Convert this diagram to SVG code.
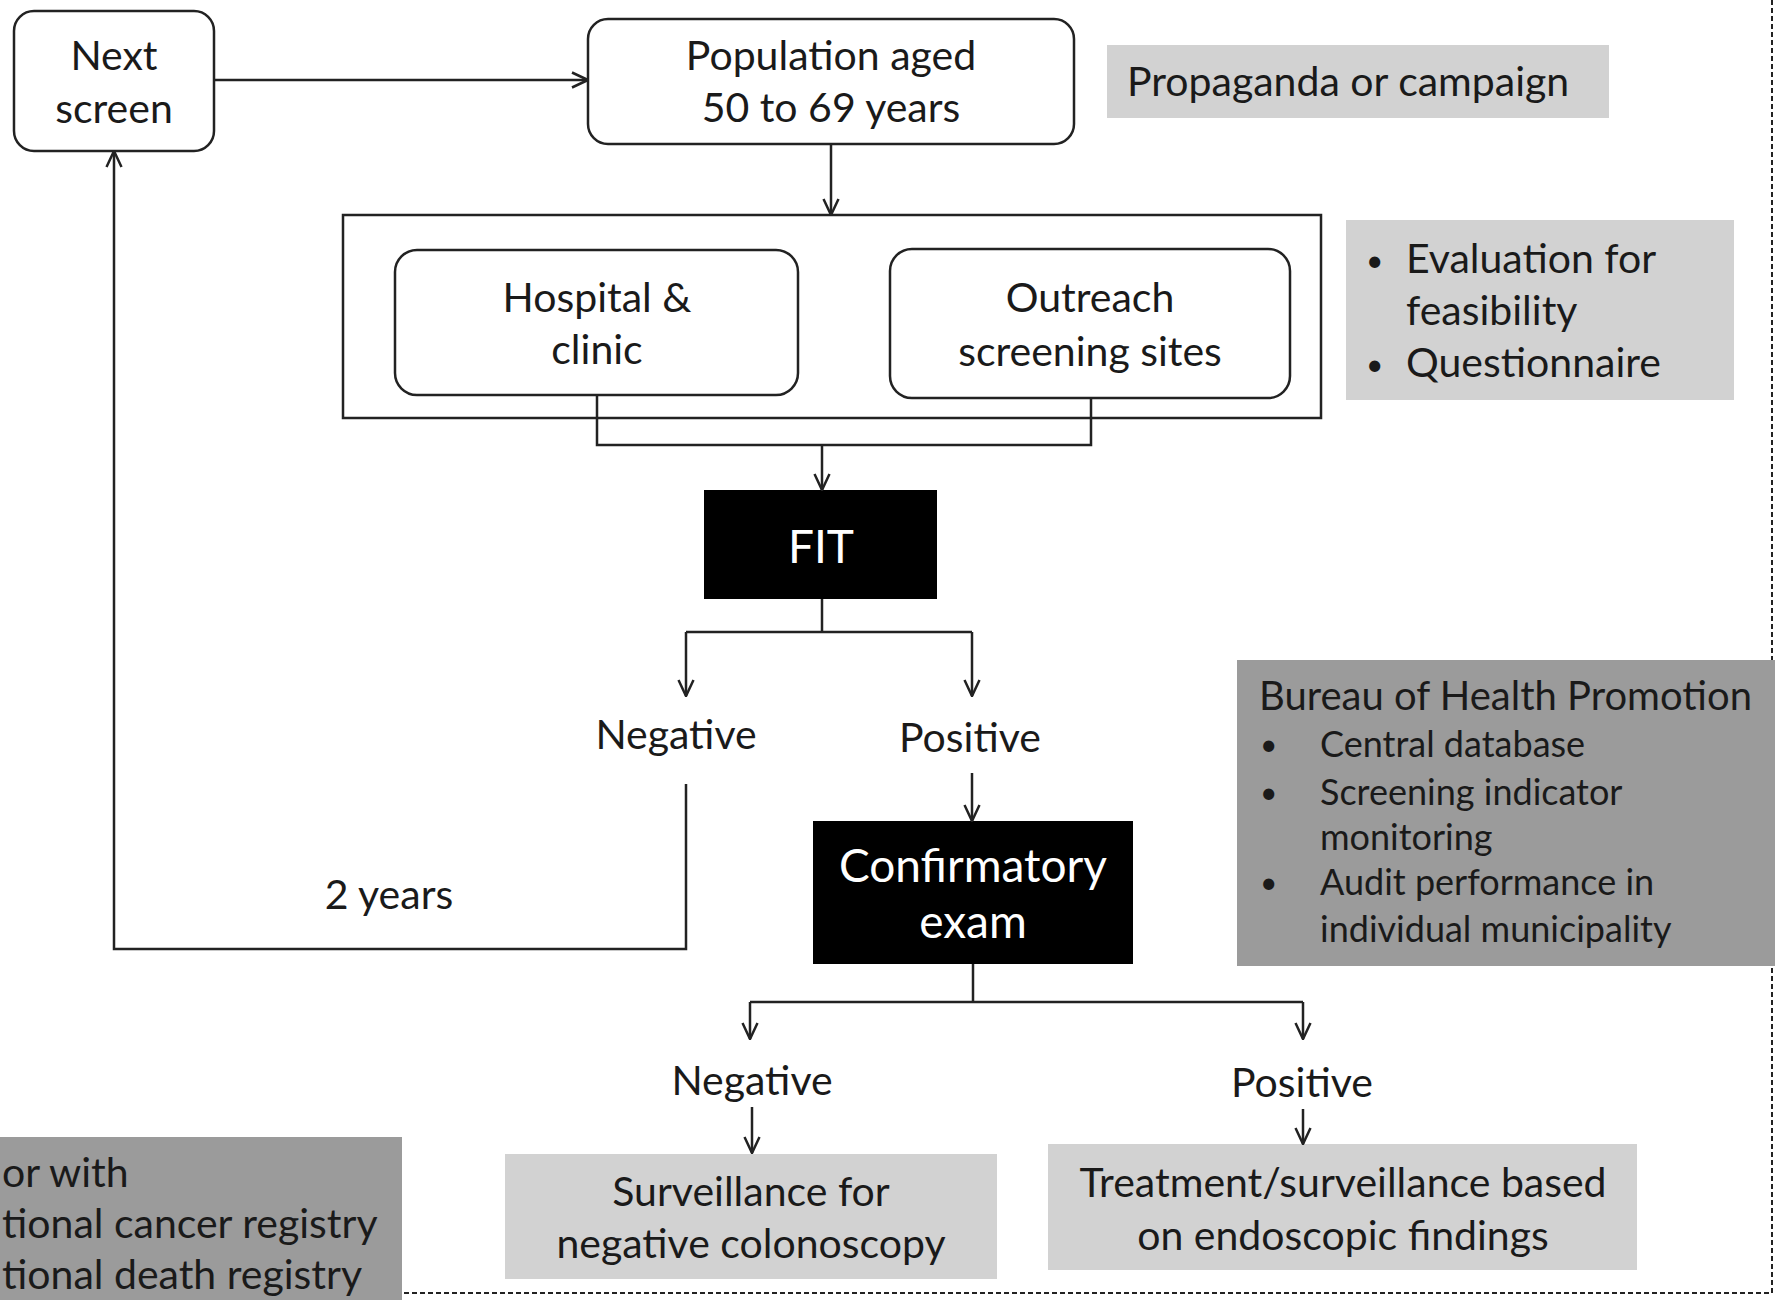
<svg xmlns="http://www.w3.org/2000/svg" width="1775" height="1300" viewBox="0 0 1775 1300">
<style>
text{font-family:Lato,"Open Sans","Liberation Sans",sans-serif;fill:#1a1a1a;font-size:41px}
.c{text-anchor:middle}
.w{fill:#fff;font-size:46px}
.box{fill:#fff;stroke:#222;stroke-width:2.5}
.lg{fill:#d2d2d2}
.dg{fill:#9b9b9b}
.ln{fill:none;stroke:#222;stroke-width:2.5}
.s{font-size:36px}
.t{font-size:40px}
.b{font-size:30px}
</style>
<defs>
<marker id="ah" viewBox="0 0 18 18" refX="17" refY="9" markerWidth="18" markerHeight="18" markerUnits="userSpaceOnUse" orient="auto">
<path d="M1,1.5 L17,9 L1,16.5" fill="none" stroke="#222" stroke-width="2.5"/>
</marker>
</defs>
<rect id="border" x="-10" y="-10" width="1782" height="1303" fill="none" stroke="#222" stroke-width="2" stroke-dasharray="5,3"/>
<g id="next-screen"><rect class="box" x="14" y="11" width="200" height="140" rx="20"/><text class="c" x="114" y="70">Next</text><text class="c" x="114" y="123">screen</text></g>
<g id="population"><rect class="box" x="588" y="19" width="486" height="125" rx="20"/><text class="c" x="831" y="70">Population aged</text><text class="c" x="831" y="122">50 to 69 years</text></g>
<g id="propaganda"><rect class="lg" x="1107" y="45" width="502" height="73"/><text x="1127" y="96">Propaganda or campaign</text></g>
<g id="sites"><rect class="box" x="343" y="215" width="978" height="203"/></g>
<g id="hospital"><rect class="box" x="395" y="250" width="403" height="145" rx="22"/><text class="c" x="597" y="312">Hospital &amp;</text><text class="c" x="597" y="364">clinic</text></g>
<g id="outreach"><rect class="box" x="890" y="249" width="400" height="149" rx="22"/><text class="c" x="1090" y="312">Outreach</text><text class="c" x="1090" y="366">screening sites</text></g>
<g id="evaluation"><rect class="lg" x="1346" y="220" width="388" height="180"/><text class="b" x="1366" y="271">•</text><text x="1406" y="273">Evaluation for</text><text x="1406" y="325">feasibility</text><text class="b" x="1366" y="375">•</text><text x="1406" y="377">Questionnaire</text></g>
<g id="fit"><rect x="704" y="490" width="233" height="109" fill="#000"/><text class="c w" x="821" y="563">FIT</text></g>
<g id="neg1"><text class="c" x="676" y="749">Negative</text></g>
<g id="pos1"><text class="c" x="970" y="752">Positive</text></g>
<g id="years"><text class="c" x="389" y="909">2 years</text></g>
<g id="confirm"><rect x="813" y="821" width="320" height="143" fill="#000"/><text class="c w" x="973" y="882">Confirmatory</text><text class="c w" x="973" y="938">exam</text></g>
<g id="bureau"><rect class="dg" x="1237" y="660" width="540" height="306"/><text class="t" x="1259" y="710">Bureau of Health Promotion</text>
<text class="b" x="1260" y="755">•</text><text class="s" x="1320" y="757">Central database</text>
<text class="b" x="1260" y="803">•</text><text class="s" x="1320" y="805">Screening indicator</text>
<text class="s" x="1320" y="850">monitoring</text>
<text class="b" x="1260" y="893">•</text><text class="s" x="1320" y="895">Audit performance in</text>
<text class="s" x="1320" y="942">individual municipality</text></g>
<g id="neg2"><text class="c" x="752" y="1095">Negative</text></g>
<g id="pos2"><text class="c" x="1302" y="1097">Positive</text></g>
<g id="surveillance"><rect class="lg" x="505" y="1154" width="492" height="125"/><text class="c" x="751" y="1206">Surveillance for</text><text class="c" x="751" y="1258">negative colonoscopy</text></g>
<g id="treatment"><rect class="lg" x="1048" y="1144" width="589" height="126"/><text class="c" x="1343" y="1197">Treatment/surveillance based</text><text class="c" x="1343" y="1250">on endoscopic findings</text></g>
<g id="registry"><rect class="dg" x="0" y="1137" width="402" height="163"/><text x="2" y="1187">or with</text><text x="2" y="1238">tional cancer registry</text><text x="2" y="1289">tional death registry</text></g>
<g id="connectors">
<line class="ln" x1="214" y1="80" x2="588" y2="80" marker-end="url(#ah)"/>
<line class="ln" x1="831" y1="144" x2="831" y2="215" marker-end="url(#ah)"/>
<polyline class="ln" points="597,395 597,445 1091,445 1091,398"/>
<line class="ln" x1="822" y1="445" x2="822" y2="490" marker-end="url(#ah)"/>
<line class="ln" x1="822" y1="599" x2="822" y2="632"/>
<polyline class="ln" points="686,632 972,632"/>
<line class="ln" x1="686" y1="632" x2="686" y2="696" marker-end="url(#ah)"/>
<line class="ln" x1="972" y1="632" x2="972" y2="696" marker-end="url(#ah)"/>
<line class="ln" x1="972" y1="773" x2="972" y2="821" marker-end="url(#ah)"/>
<polyline class="ln" points="686,784 686,949 114,949 114,151" marker-end="url(#ah)"/>
<line class="ln" x1="973" y1="964" x2="973" y2="1002"/>
<polyline class="ln" points="750,1002 1303,1002"/>
<line class="ln" x1="750" y1="1002" x2="750" y2="1039" marker-end="url(#ah)"/>
<line class="ln" x1="1303" y1="1002" x2="1303" y2="1039" marker-end="url(#ah)"/>
<line class="ln" x1="752" y1="1107" x2="752" y2="1153" marker-end="url(#ah)"/>
<line class="ln" x1="1303" y1="1109" x2="1303" y2="1144" marker-end="url(#ah)"/>
</g>
</svg>
